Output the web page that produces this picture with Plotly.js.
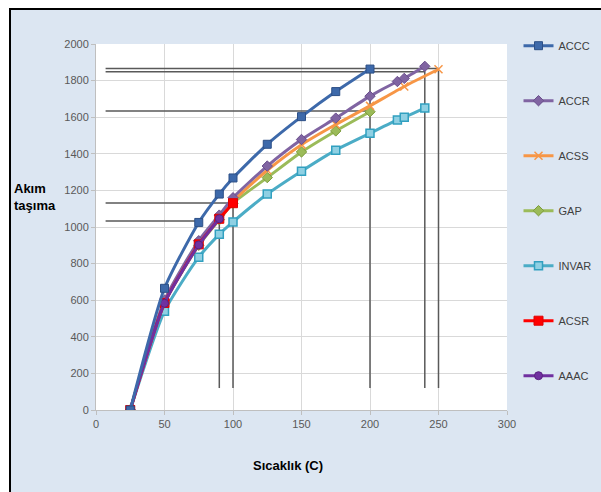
<!DOCTYPE html>
<html>
<head>
<meta charset="utf-8">
<script src="https://cdn.plot.ly/plotly-3.0.1.min.js"></script>
<style>
html,body{margin:0;padding:0;background:#fff;}
#frame{position:absolute;left:9px;top:8px;width:592px;height:484px;border-left:2px solid #000;border-top:2px solid #000;box-sizing:border-box;}
#chart{position:absolute;left:11px;top:10px;width:590px;height:482px;}
</style>
</head>
<body>
<div id="frame"></div>
<div id="chart"></div>
<script>
// Series names
const seriesNames = ["ACCC", "ACCR", "ACSS", "GAP", "INVAR", "ACSR", "AAAC"];

// Temperatures (C) and current-carrying values for each series
const accc_x  = [25, 50, 75, 90, 100, 125, 150, 175, 200];
const accc_y  = [0, 665, 1025, 1180, 1268, 1452, 1603, 1740, 1863];

const accr_x  = [25, 50, 75, 90, 100, 125, 150, 175, 200, 220, 225, 240];
const accr_y  = [0, 600, 925, 1065, 1160, 1333, 1478, 1595, 1715, 1795, 1812, 1878];

const acss_x  = [25, 50, 75, 100, 125, 150, 175, 200, 225, 250];
const acss_y  = [0, 590, 910, 1140, 1310, 1450, 1560, 1662, 1768, 1862];

const gap_x   = [25, 50, 75, 90, 100, 125, 150, 175, 200];
const gap_y   = [0, 585, 900, 1040, 1130, 1270, 1410, 1525, 1630];

const invar_x = [25, 50, 75, 90, 100, 125, 150, 175, 200, 220, 225, 240];
const invar_y = [0, 540, 835, 960, 1028, 1180, 1305, 1420, 1512, 1585, 1600, 1650];

const acsr_x  = [25, 50, 75, 90, 100];
const acsr_y  = [0, 585, 905, 1045, 1130];

const aaac_x  = [25, 50, 75, 90];
const aaac_y  = [0, 583, 902, 1045];

// Reference guide lines (horizontal: value, x-start, x-end; vertical: x, y-start, y-end)
const hLineY     = [1866, 1848, 1634, 1131, 1033];
const hLineStart = [7, 7, 7, 7, 7];
const hLineEnd   = [250, 240, 200, 100, 75];
const vLineX     = [90, 100, 200, 240, 250];
const vLineStart = [120, 120, 120, 120, 120];
const vLineEnd   = [1045, 1130, 1860, 1880, 1855];

// Axis ticks
const xTicks = [0, 50, 100, 150, 200, 250, 300];
const yTicks = [0, 200, 400, 600, 800, 1000, 1200, 1400, 1600, 1800, 2000];

const xs = [accc_x, accr_x, acss_x, gap_x, invar_x, acsr_x, aaac_x];
const ys = [accc_y, accr_y, acss_y, gap_y, invar_y, acsr_y, aaac_y];
const colors = ["#3d69aa", "#8064a2", "#f79646", "#9bbb59", "#4bacc6", "#ff0000", "#7030a0"];
const markers = [
  {symbol: "square", size: 8, color: "#3d69aa", line: {color: "#2c4f86", width: 1}},
  {symbol: "diamond", size: 8, color: "#8064a2", line: {color: "#6a4f8c", width: 1}},
  {symbol: "x-thin-open", size: 8, color: "#f79646", line: {color: "#f79646", width: 1.5}},
  {symbol: "diamond", size: 8, color: "#9bbb59", line: {color: "#7d9c3c", width: 1}},
  {symbol: "square", size: 8, color: "#8fd0e3", line: {color: "#31a0c0", width: 1.5}},
  {symbol: "square", size: 9, color: "#ff0000", line: {color: "#e00000", width: 1}},
  {symbol: "circle", size: 8, color: "#7030a0", line: {color: "#5a2080", width: 1}}
];
// Draw order: later traces on top
const order = [4, 3, 2, 1, 5, 6, 0];
const traces = order.map(i => ({
  type: "scatter",
  mode: "lines+markers",
  name: seriesNames[i],
  legendgroup: seriesNames[i],
  legendrank: i + 1,
  x: xs[i],
  y: ys[i],
  line: {color: colors[i], width: 3, shape: "spline", smoothing: 0.6},
  marker: markers[i]
}));

const shapes = [];
hLineY.forEach((v, i) => shapes.push({
  type: "line", xref: "x", yref: "y", layer: "between",
  x0: hLineStart[i], x1: hLineEnd[i], y0: v, y1: v,
  line: {color: "#595959", width: 1.5}
}));
vLineX.forEach((v, i) => shapes.push({
  type: "line", xref: "x", yref: "y", layer: "between",
  x0: v, x1: v, y0: vLineStart[i], y1: vLineEnd[i],
  line: {color: "#595959", width: 1.5}
}));

const tickFont = {family: "Liberation Sans, Arial, sans-serif", size: 11, color: "#595959"};

const layout = {
  width: 590,
  height: 482,
  margin: {l: 85, r: 94, t: 34, b: 82, autoexpand: false},
  paper_bgcolor: "#dce6f2",
  plot_bgcolor: "#ffffff",
  showlegend: true,
  legend: {
    x: 1.028, xanchor: "left",
    y: 1.035, yanchor: "top",
    traceorder: "grouped",
    tracegroupgap: 36,
    maxheight: 470,
    bgcolor: "rgba(0,0,0,0)",
    font: {family: "Liberation Sans Narrow, Arial Narrow, Liberation Sans, sans-serif", size: 11, color: "#404040"}
  },
  xaxis: {
    range: [0, 300],
    tickvals: xTicks,
    ticktext: xTicks.map(String),
    showgrid: true, gridcolor: "#d9d9d9", gridwidth: 1,
    zeroline: false,
    showline: true, linecolor: "#bfbfbf", linewidth: 1,
    ticks: "outside", ticklen: 4, tickcolor: "#bfbfbf",
    tickfont: tickFont,
    fixedrange: true
  },
  yaxis: {
    range: [0, 2000],
    tickvals: yTicks,
    ticktext: yTicks.map(String),
    showgrid: true, gridcolor: "#d9d9d9", gridwidth: 1,
    zeroline: false,
    showline: true, linecolor: "#bfbfbf", linewidth: 1,
    ticks: "outside", ticklen: 4, tickcolor: "#bfbfbf",
    tickfont: tickFont,
    fixedrange: true
  },
  shapes: shapes,
  annotations: [
    {
      text: "Akım<br>taşıma", xref: "paper", yref: "y",
      x: -0.205, y: 1165, xanchor: "left", yanchor: "middle", align: "left",
      showarrow: false,
      font: {family: "Liberation Sans, Arial, sans-serif", size: 13, color: "#000", weight: "bold"}
    },
    {
      text: "Sıcaklık (C)", xref: "paper", yref: "paper",
      x: 0.467, y: -0.153, xanchor: "center", yanchor: "middle",
      showarrow: false,
      font: {family: "Liberation Sans, Arial, sans-serif", size: 13, color: "#000", weight: "bold"}
    }
  ]
};

Plotly.newPlot("chart", traces, layout, {displayModeBar: false, staticPlot: true});
</script>
</body>
</html>
